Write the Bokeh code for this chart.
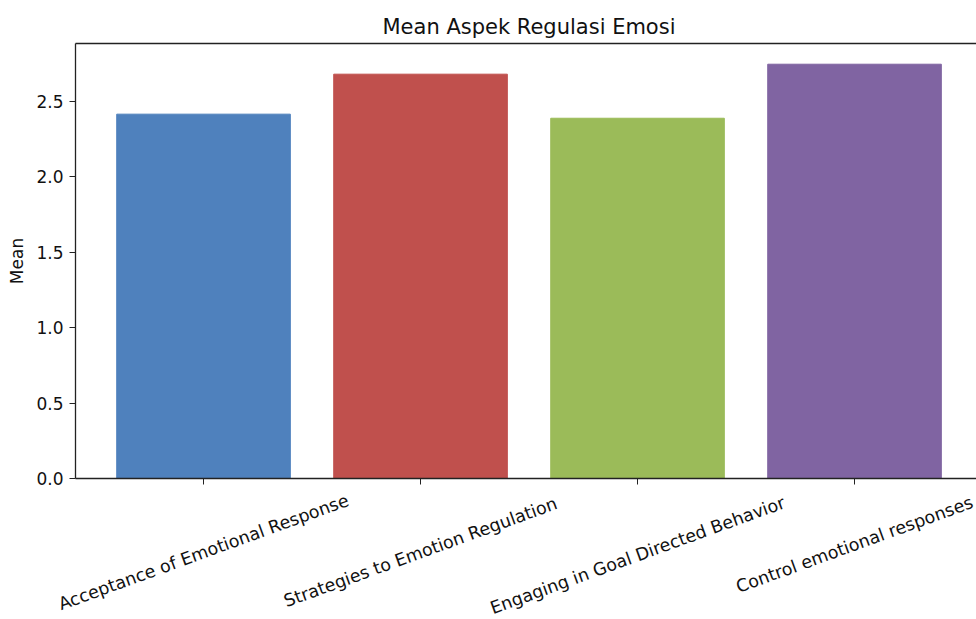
import math
from bokeh.plotting import figure
from bokeh.core.properties import value
from bokeh.models import (Range1d, FixedTicker, PrintfTickFormatter, LabelSet,
                          ColumnDataSource, LinearAxis)
from bokeh.embed import file_html
from bokeh.resources import INLINE

# ---- data ----
categories = ["Acceptance of Emotional Response",
              "Strategies to Emotion Regulation",
              "Engaging in Goal Directed Behavior",
              "Control emotional responses"]
means = [2.414, 2.679, 2.387, 2.745]
colors = ["#4F81BD", "#C0504D", "#9BBB59", "#8064A2"]
y_ticks = [0.0, 0.5, 1.0, 1.5, 2.0, 2.5]

# ---- layout ----
W = 976
B_LEFT, B_TOP, B_RIGHT, B_BOTTOM = 75, 43, 0, 12
FRAME_H = 435
H1 = B_TOP + FRAME_H + B_BOTTOM
H2 = 129
frame_w = W - B_LEFT - B_RIGHT
px_per_x = 217.0
x_start = -0.59
x_end = x_start + frame_w / px_per_x
y_end = max(means) * 1.05

FONT = "DejaVu Sans"
TXT = "#111111"
LINE = "#222222"

p = figure(width=W, height=H1, output_backend="svg", toolbar_location=None,
           x_range=Range1d(x_start, x_end), y_range=Range1d(0, y_end),
           min_border_left=B_LEFT, min_border_top=B_TOP,
           min_border_right=B_RIGHT, min_border_bottom=B_BOTTOM,
           title="Mean Aspek Regulasi Emosi")

p.title.align = "left"
p.title.offset = 307
p.title.text_font = FONT
p.title.text_font_size = "21px"
p.title.text_font_style = "normal"
p.title.text_color = TXT

xs = list(range(len(categories)))
src = ColumnDataSource(dict(x=xs, top=means, color=colors))
p.vbar(x="x", top="top", width=0.8, bottom=0, fill_color="color",
       line_color="color", source=src)

p.xgrid.visible = False
p.ygrid.visible = False
p.outline_line_color = None
p.background_fill_color = "white"
p.border_fill_color = "white"

# y axis (left spine)
p.yaxis.ticker = FixedTicker(ticks=y_ticks)
p.yaxis.formatter = PrintfTickFormatter(format="%.1f")
p.yaxis.axis_label = "Mean"
p.yaxis.axis_label_text_font = FONT
p.yaxis.axis_label_text_font_size = "17px"
p.yaxis.axis_label_text_font_style = "normal"
p.yaxis.axis_label_text_color = TXT
p.yaxis.axis_label_standoff = 6
p.yaxis.major_label_text_font = FONT
p.yaxis.major_label_text_font_size = "17px"
p.yaxis.major_label_text_color = TXT
p.yaxis.major_label_standoff = 6
p.yaxis.minor_tick_line_color = None
p.yaxis.major_tick_in = 0
p.yaxis.major_tick_out = 6
p.yaxis.major_tick_line_color = LINE
p.yaxis.axis_line_color = LINE
p.yaxis.axis_line_width = 1.3

# x axis (bottom spine): ticks only; labels drawn rotated in the strip below
p.xaxis.ticker = FixedTicker(ticks=xs)
p.xaxis.major_label_overrides = {i: "" for i in xs}
p.xaxis.major_label_text_font_size = "1px"
p.xaxis.major_label_standoff = 0
p.xaxis.minor_tick_line_color = None
p.xaxis.major_tick_in = 0
p.xaxis.major_tick_out = 6
p.xaxis.major_tick_line_color = LINE
p.xaxis.axis_line_color = LINE
p.xaxis.axis_line_width = 1.3

# top spine
top_axis = LinearAxis(ticker=FixedTicker(ticks=[]), major_tick_out=0,
                      major_tick_in=0, minor_tick_out=0, minor_tick_in=0,
                      major_label_standoff=0,
                      major_label_text_font_size="1px",
                      axis_line_color=LINE, axis_line_width=1.3,
                      major_tick_line_color=None, minor_tick_line_color=None)
p.add_layout(top_axis, "above")

# ---- label strip (same horizontal scale), separate root ----
s_start = x_start - B_LEFT / px_per_x
s_end = s_start + W / px_per_x
s = figure(width=W, height=H2, output_backend="svg", toolbar_location=None,
           x_range=Range1d(s_start, s_end), y_range=Range1d(0, H2),
           x_axis_location=None, y_axis_location=None,
           min_border_left=0, min_border_right=0, min_border_top=0,
           min_border_bottom=0)
s.xgrid.visible = False
s.ygrid.visible = False
s.outline_line_color = None
s.background_fill_color = "white"
s.border_fill_color = "white"

ang = math.radians(20)
char_w = 9.0
line_h = 19.0
top_gap = 15.5  # px below the frame bottom where the rotated box starts
label_y = []
for c in categories:
    w = len(c) * char_w
    bbox_h = w * math.sin(ang) + line_h * math.cos(ang)
    center_from_frame = top_gap + bbox_h / 2
    label_y.append(H2 - (center_from_frame - B_BOTTOM))

lsrc = ColumnDataSource(dict(x=xs, y=label_y, text=categories))
labels = LabelSet(x="x", y="y", text="text", source=lsrc, angle=20,
                  angle_units="deg", text_align=value("center"),
                  text_baseline=value("middle"), text_font=value(FONT),
                  text_font_size=value("17.5px"), text_color=value(TXT))
s.add_layout(labels)

open("out.html", "w").write(file_html([p, s], INLINE))
